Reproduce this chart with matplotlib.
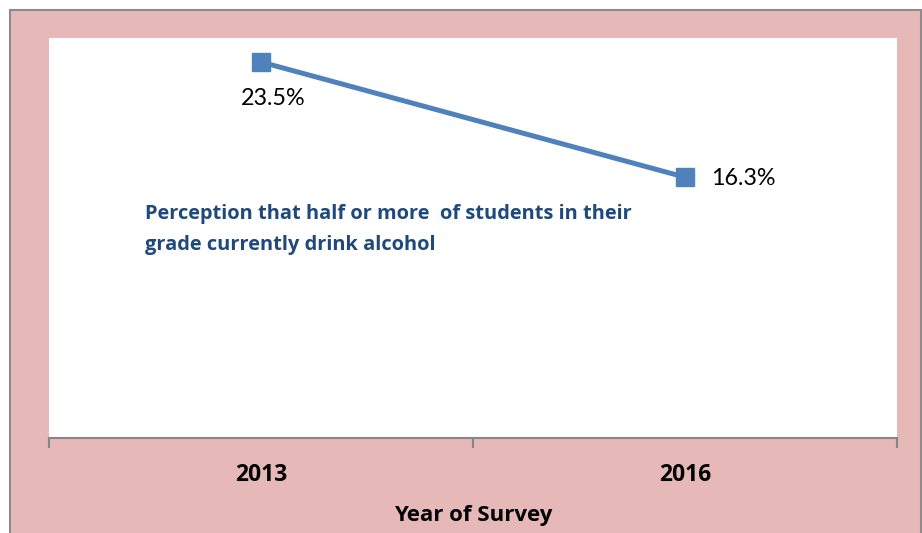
import matplotlib.pyplot as plt
from matplotlib.patches import Rectangle

years = ["2013", "2016"]
values = [23.5, 16.3]
value_labels = ["23.5%", "16.3%"]
note = "Perception that half or more  of students in their\ngrade currently drink alcohol"

plt.rcParams['font.family'] = ['Lato', 'DejaVu Sans']

fig = plt.figure(figsize=(9.22, 5.33), dpi=100)
fig.patch.set_facecolor("white")
# pink chart area with grey frame
fig.add_artist(Rectangle((10 / 922, -0.01), 911 / 922, 1 - 10 / 533 + 0.01,
                         transform=fig.transFigure, facecolor="#E6B9B8",
                         edgecolor="#8C8C8C", linewidth=1.5, zorder=0))

ax = fig.add_axes([49 / 922, 1 - 438 / 533, 848 / 922, 400 / 533])
ax.set_facecolor("white")

x = list(range(len(years)))
ax.plot(x, values, color="#4F81BD", linewidth=3.6, marker="s",
        markersize=13, markerfacecolor="#4F81BD", markeredgecolor="#4F81BD",
        solid_capstyle="butt")

ax.set_xlim(-0.5, 1.5)
ax.set_ylim(0, 25)

ax.annotate(value_labels[0], (x[0], values[0]), xytext=(9, -19),
            textcoords="offset points", ha="center", va="top", fontsize=16.8)
ax.annotate(value_labels[1], (x[1], values[1]), xytext=(19, -1),
            textcoords="offset points", ha="left", va="center", fontsize=16.8)

fig.text(145 / 922, 1 - 204 / 533, note, color="#1F497D", fontsize=14.4,
         fontweight="bold", family="Open Sans", ha="left", va="top",
         linespacing=1.72)

for s in ["top", "right", "left"]:
    ax.spines[s].set_visible(False)
ax.spines["bottom"].set_color("#868686")
ax.spines["bottom"].set_linewidth(1.5)

ax.set_yticks([])
ax.set_xticks(x)
ax.set_xticklabels(years, fontsize=16.5, fontweight="bold", family="Open Sans")
ax.tick_params(axis="x", which="major", length=0, pad=18)
ax.set_xticks([-0.5, 0.5, 1.5], minor=True)
ax.tick_params(axis="x", which="minor", length=7, width=1.5, color="#868686")

ax.set_xlabel("Year of Survey", fontsize=16, fontweight="bold",
              family="Open Sans", labelpad=13)

fig.savefig("out.png", dpi=100)
